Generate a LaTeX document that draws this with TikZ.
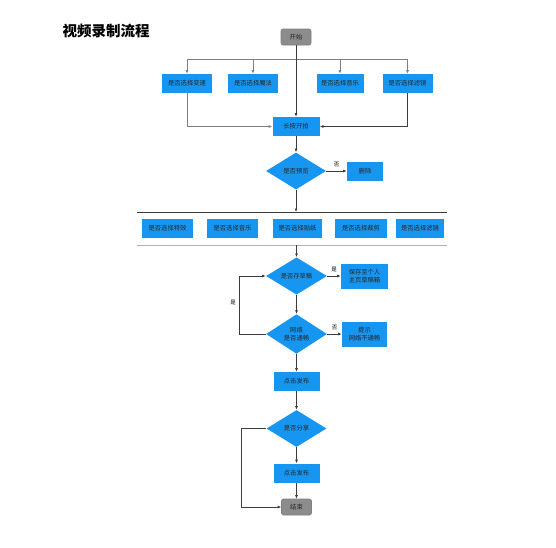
\documentclass[tikz,border=0pt]{standalone}
\usepackage{fontspec}
\newfontfamily\cjk{Noto Sans CJK SC}
\usetikzlibrary{shapes.geometric,arrows.meta}
\definecolor{boxblue}{RGB}{22,150,240}
\definecolor{endgray}{RGB}{140,140,140}
\definecolor{linegray}{RGB}{60,60,60}

\begin{document}
\begin{tikzpicture}[x=1pt,y=-1pt,line width=.6pt,
  blk/.style={fill=boxblue,inner sep=0pt,minimum width=50pt,minimum height=19pt,
    align=center,font=\cjk\fontsize{6.3}{8.5}\selectfont,text=black!85},
  dia/.style={diamond,fill=boxblue,inner sep=0pt,minimum width=60pt,minimum height=37pt,
    align=center,font=\cjk\fontsize{6.3}{8.5}\selectfont,text=black!85},
  term/.style={fill=endgray,draw=gray,rounded corners=2pt,inner sep=0pt,minimum width=30pt,
    minimum height=16pt,font=\cjk\fontsize{6.3}{8}\selectfont,text=black!85},
  lab/.style={font=\cjk\fontsize{5.5}{6}\selectfont,inner sep=0pt},
  arr/.style={draw=linegray,-{Latex[length=3.5pt,width=2.8pt]}}]
\useasboundingbox[fill=white] (0,0) rectangle (556,547);

% title
\node[font=\cjk\bfseries\fontsize{14.5}{16}\selectfont] (title) at (106,31) {视频录制流程};

% first part
\node[term] (start) at (296,37) {开始};
\node[blk] (speed) at (187,83.5) {是否选择变速};
\node[blk] (magic) at (253,83.5) {是否选择魔法};
\node[blk,minimum width=47pt] (music) at (340,83.5) {是否选择音乐};
\node[blk] (filter) at (407.5,83.5) {是否选择滤镜};
\node[blk,minimum width=47pt] (press) at (296,126.5) {长按开拍};
\node[dia] (preview) at (296,171) {是否预览};
\node[blk,minimum width=36pt] (del) at (365,171) {删除};

\coordinate (bus) at (296,59);
\draw[arr,draw=gray] (bus) -| (speed.north);
\draw[arr,draw=gray] (bus) -| (magic.north);
\draw[arr,draw=gray] (bus) -| (music.north);
\draw[arr,draw=gray] (bus) -| (filter.north);
\draw[arr] (start) -- (press);
\draw[arr,draw=gray] (speed.south) |- (press.west);
\draw[arr] (filter.south) |- (press.east);
\draw[arr] (press) -- (preview);
\draw[arr] (preview.east) -- node[lab,above=4pt] {否} (del.west);

% editing row
\coordinate (sepa) at (296,212);
\coordinate (sepb) at (296,245);
\draw[linegray] (137,212) -- (447,212);
\draw[gray!60] (137,245) -- (447,245);
\draw[arr] (preview.south) -- (sepa);
\node[blk,minimum width=51pt] (effect) at (167.5,228) {是否选择特效};
\node[blk,minimum width=51pt] (music2) at (232.5,228) {是否选择音乐};
\node[blk,minimum width=49pt] (sticker) at (297.5,228) {是否选择贴纸};
\node[blk,minimum width=52pt] (crop) at (361,228) {是否选择裁剪};
\node[blk,minimum width=48pt] (filter2) at (420,228) {是否选择滤镜};

% second part
\node[dia,minimum width=61pt] (draft) at (296.5,276) {是否存草稿};
\node[blk,minimum width=47pt,minimum height=25pt] (save) at (364.5,276) {保存至个人\\主页草稿箱};
\node[dia,minimum width=61pt,minimum height=38pt] (net) at (296.5,334) {网络\\是否通畅};
\node[blk,minimum width=45pt,minimum height=25pt] (hint) at (364.5,334) {提示\\网络不通畅};
\node[blk,minimum width=46pt] (pub) at (296.5,381.5) {点击发布};
\node[dia] (share) at (296.5,428.5) {是否分享};
\node[blk,minimum width=46pt] (pubb) at (296.5,473) {点击发布};
\node[term] (finish) at (296.5,507) {结束};

\draw[arr] (sepb -| draft.north) -- (draft.north);
\draw[arr] (draft.east) -- node[lab,above=4pt] {是} (save.west);
\draw[arr] (draft.south) -- (net.north);
\draw[arr] (net.east) -- node[lab,above=4pt] {否} (hint.west);
\draw[arr] (net.west) -- (239,334) |- (draft.west);
\node[lab] (yes) at (233,303) {是};
\draw[arr] (net.south) -- (pub.north);
\draw[arr] (pub) -- (share);
\draw[arr] (share) -- (pubb);
\draw[arr] (pubb) -- (finish);
\draw[arr] (share.west) -- (241,428.5) |- (finish.west);
\end{tikzpicture}
\end{document}
